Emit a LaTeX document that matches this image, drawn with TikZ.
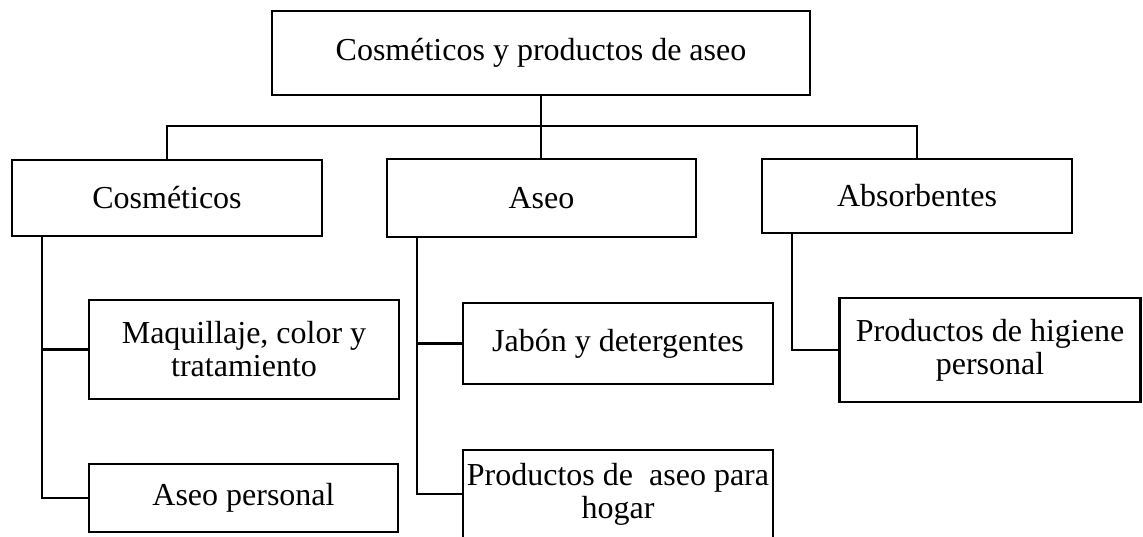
\documentclass[tikz,border=0pt]{standalone}
\usepackage{fontspec}
\setmainfont{Liberation Serif}
\begin{document}
\begin{tikzpicture}[x=1pt,y=1pt,
  catbox/.style={draw=black, line width=2.4pt, rectangle, inner sep=0pt, align=center,
    font=\fontsize{32}{33}\selectfont},
  link/.style={draw=black, line width=2.4pt}]
\useasboundingbox (0,0) rectangle (1143,-536);
\clip (0,0) rectangle (1143,-536);
\node[catbox, minimum width=538pt, minimum height=84pt] (top) at (541,-53) {Cosméticos y productos de aseo};
\node[catbox, minimum width=310pt, minimum height=76pt] (cos) at (167,-198) {Cosméticos};
\node[catbox, minimum width=309pt, minimum height=78pt] (aseo) at (541.5,-198) {Aseo};
\node[catbox, minimum width=310pt, minimum height=74pt] (abs) at (917,-196) {Absorbentes};
\node[catbox, minimum width=310pt, minimum height=99pt] (maq) at (244,-349.5) {Maquillaje, color y\\tratamiento};
\node[catbox, minimum width=309pt, minimum height=68pt] (ap) at (243.5,-498) {Aseo personal};
\node[catbox, minimum width=310pt, minimum height=81pt] (jab) at (618,-343.5) {Jabón y detergentes};
\node[catbox, minimum width=310pt, minimum height=88pt] (prod) at (618,-494) {Productos de \ aseo para\\hogar};
\node[catbox, minimum width=301pt, minimum height=104pt] (hig) at (990,-350) {Productos de higiene\\personal};
\draw[link] (top.south) -- (top.south |- aseo.north);
\draw[link] (cos.north) -- ++(0,33) -| (abs.north);
\draw[link] ([xshift=-125pt]cos.south) |- (maq.west);
\draw[link] ([xshift=-125pt]cos.south) |- (ap.west);
\draw[link] ([xshift=-124.5pt]aseo.south) |- (jab.west);
\draw[link] ([xshift=-124.5pt]aseo.south) |- (prod.west);
\draw[link] ([xshift=-125pt]abs.south) |- (hig.west);
\end{tikzpicture}
\end{document}
